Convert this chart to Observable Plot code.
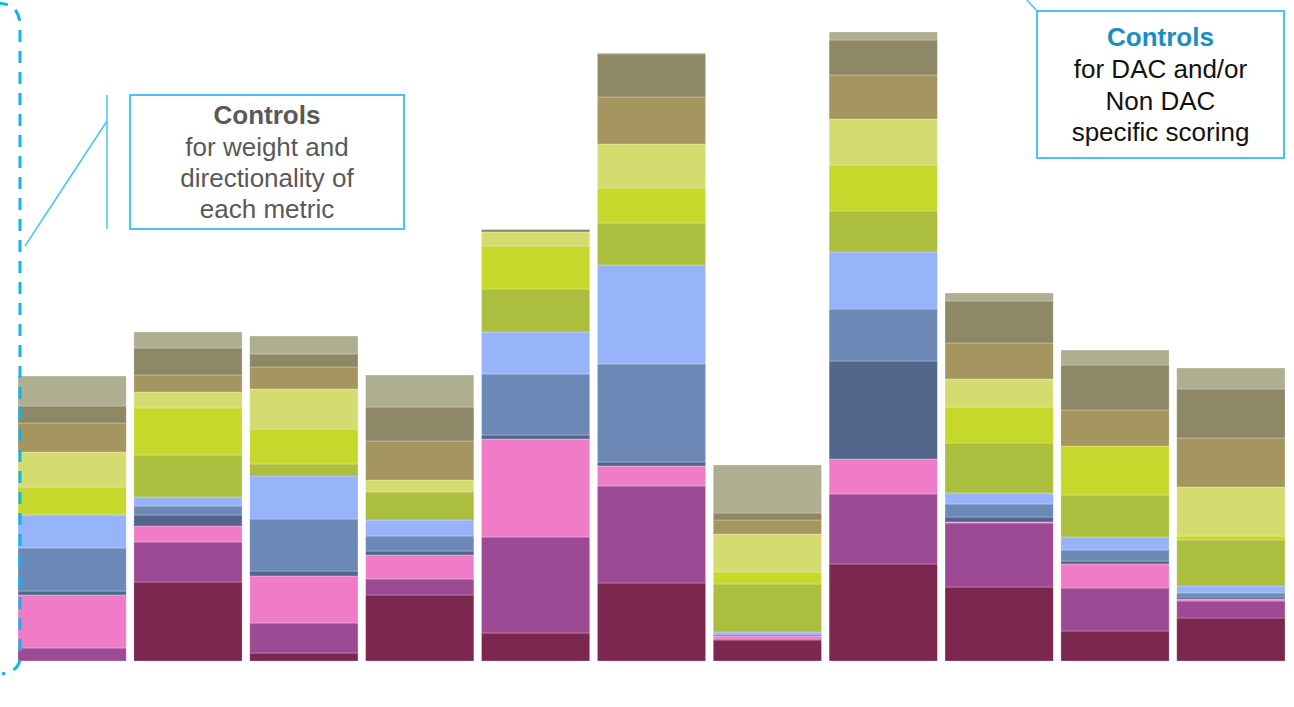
<!DOCTYPE html>
<html>
<head>
<meta charset="utf-8">
<script src="https://cdn.jsdelivr.net/npm/d3@7"></script>
<script src="https://cdn.jsdelivr.net/npm/@observablehq/plot@0.6"></script>
<style>
  html, body { margin: 0; padding: 0; background: #ffffff; }
  #chart svg { display: block; }
</style>
</head>
<body>
<div id="chart"></div>
<script>
// Eleven scored areas, each a stack of twelve weighted metric scores.
const areas = ["A1", "A2", "A3", "A4", "A5", "A6", "A7", "A8", "A9", "A10", "A11"];

const metrics = [
  "Metric 1", "Metric 2", "Metric 3", "Metric 4", "Metric 5", "Metric 6",
  "Metric 7", "Metric 8", "Metric 9", "Metric 10", "Metric 11", "Metric 12"
];

const metricColors = [
  "#7b2750", "#9c4a94", "#f07cc8", "#52668c", "#6c88b6", "#97b4fb",
  "#abbe3d", "#c6d82c", "#d4dc70", "#a5955f", "#8e8866", "#aeae90"
];

// Weighted score of each metric per area (bottom of the stack first).
const metric1  = [0, 79, 8, 66, 28, 78, 21, 97, 74, 30, 43];
const metric2  = [13, 40, 30, 16, 96, 97, 1, 70, 64, 43, 17];
const metric3  = [53, 16, 47, 24, 98, 20, 3, 35, 1, 24, 2];
const metric4  = [4, 11, 5, 4, 4, 4, 1, 98, 5, 3, 2];
const metric5  = [43, 9, 52, 15, 61, 98, 1, 52, 13, 11, 4];
const metric6  = [33, 9, 43, 16, 42, 99, 2, 57, 11, 13, 7];
const metric7  = [1, 42, 12, 28, 43, 42, 48, 41, 50, 42, 46];
const metric8  = [27, 47, 35, 0, 43, 35, 12, 46, 36, 49, 4];
const metric9  = [35, 16, 40, 12, 14, 44, 38, 46, 28, 0, 49];
const metric10 = [29, 17, 22, 39, 0, 47, 14, 44, 36, 36, 49];
const metric11 = [17, 27, 13, 34, 2.5, 43, 7, 35, 42, 45, 49];
const metric12 = [30, 16, 18, 32, 0, 1, 48, 8, 8, 15, 21];

const series = [metric1, metric2, metric3, metric4, metric5, metric6,
                metric7, metric8, metric9, metric10, metric11, metric12];

// Long table: metric-major so the first metric sits at the bottom of each stack.
const rows = [];
series.forEach((values, m) => {
  values.forEach((v, i) => rows.push({area: areas[i], metric: metrics[m], value: v}));
});

const W = 1294, H = 707;

const chart = Plot.plot({
  width: W,
  height: H,
  marginTop: 0,
  marginBottom: 46,
  marginLeft: 18,
  marginRight: 9,
  style: {background: "#ffffff", fontFamily: "'Liberation Sans', Arial, sans-serif"},
  x: {domain: areas, paddingInner: 0.066, paddingOuter: 0, round: false, axis: null},
  y: {domain: [0, 661], axis: null},
  color: {domain: metrics, range: metricColors, type: "ordinal"},
  marks: [
    Plot.barY(rows, Plot.stackY({
      x: "area",
      y: "value",
      fill: "metric",
      stroke: "#ffffff",
      strokeOpacity: 0.35,
      strokeWidth: 0.75
    }))
  ]
});

document.getElementById("chart").append(chart);

// Callouts drawn on top of the plot
const svg = d3.select(chart);
const cyan = "#4cc3ee";
const font = "'Liberation Sans', Arial, sans-serif";
const baseY = chart.scale("y").apply(0);

// dashed bracket grouping the metric controls on the left
svg.append("path")
  .attr("d", `M -4,3 Q 20,3 20,26 L 20,${baseY - 4} Q 20,${baseY + 10} 2,${baseY + 13}`)
  .attr("fill", "none")
  .attr("stroke", "#12b4e9")
  .attr("stroke-width", 3)
  .attr("stroke-dasharray", "12 9");

// leader from the bracket to the weight/directionality note
svg.append("line").attr("x1", 107).attr("y1", 95).attr("x2", 107).attr("y2", 229)
  .attr("stroke", cyan).attr("stroke-width", 1.5);
svg.append("line").attr("x1", 107).attr("y1", 121).attr("x2", 25).attr("y2", 246)
  .attr("stroke", cyan).attr("stroke-width", 1.5);

// leader into the DAC note
svg.append("line").attr("x1", 1026).attr("y1", -1).attr("x2", 1038).attr("y2", 12)
  .attr("stroke", cyan).attr("stroke-width", 1.5);

function note(x, y, w, h, title, titleColor, lines, textColor, baselines) {
  const g = svg.append("g");
  g.append("rect")
    .attr("x", x).attr("y", y).attr("width", w).attr("height", h)
    .attr("fill", "#ffffff").attr("stroke", cyan).attr("stroke-width", 2);
  const cx = x + w / 2;
  g.append("text")
    .attr("x", cx).attr("y", baselines[0])
    .attr("text-anchor", "middle")
    .attr("font-family", font).attr("font-size", 26).attr("font-weight", "bold")
    .attr("fill", titleColor)
    .text(title);
  lines.forEach((t, i) => {
    g.append("text")
      .attr("x", cx).attr("y", baselines[i + 1])
      .attr("text-anchor", "middle")
      .attr("font-family", font).attr("font-size", 26)
      .attr("fill", textColor)
      .text(t);
  });
}

note(130, 95, 274, 134, "Controls", "#595959",
  ["for weight and", "directionality of", "each metric"], "#595959",
  [124, 156, 187, 218]);

note(1037, 11, 247, 147, "Controls", "#1b8ec2",
  ["for DAC and/or", "Non DAC", "specific scoring"], "#111111",
  [46, 78, 110, 141]);
</script>
</body>
</html>
